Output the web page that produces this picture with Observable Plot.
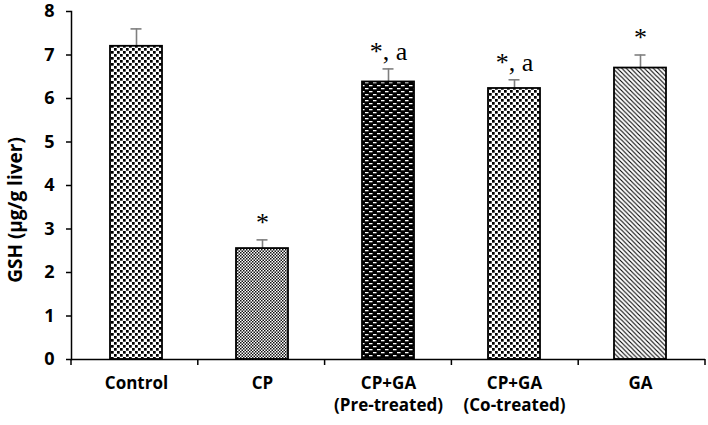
<!DOCTYPE html>
<html>
<head>
<meta charset="utf-8">
<script src="https://cdn.jsdelivr.net/npm/d3@7"></script>
<script src="https://cdn.jsdelivr.net/npm/@observablehq/plot@0.6"></script>
<style>
  html, body { margin: 0; padding: 0; background: #fff; }
  #chart svg { display: block; overflow: visible; }
</style>
</head>
<body>
<div id="chart"></div>
<script>
const categories = ["Control", "CP", "CP+GA\n(Pre-treated)", "CP+GA\n(Co-treated)", "GA"];
const means = [7.2, 2.55, 6.38, 6.23, 6.7];
const errors = [0.4, 0.2, 0.3, 0.2, 0.3];
const significance = ["", "*", "*, a", "*, a", "*"];
const patternIds = ["dots", "checker", "dashes", "dots", "diag"];
const yTicks = [0, 1, 2, 3, 4, 5, 6, 7, 8];
const yLabel = "GSH (µg/g liver)";

const data = categories.map((c, i) => ({
  cat: c, mean: means[i], err: errors[i], top: means[i] + errors[i],
  sig: significance[i], pat: `url(#pat-${patternIds[i]})`
}));

const sans = "'Open Sans', sans-serif";
const errColor = "#7f7f7f";

const plot = Plot.plot({
  width: 708,
  height: 425,
  marginLeft: 71,
  marginRight: 3,
  marginTop: 11,
  marginBottom: 66,
  style: { fontFamily: sans, fontSize: "18px", fontWeight: "bold", color: "#000", background: "#fff", overflow: "visible" },
  color: { type: "identity" },
  x: { domain: categories, paddingInner: 0.59, paddingOuter: 0.295, label: null },
  y: { domain: [0, 8], label: null },
  marks: [
    Plot.axisY({ ticks: yTicks, tickSize: 5, tickPadding: 12, tickFormat: d => String(d), fontSize: 18, fontWeight: "bold", strokeWidth: 1.5 }),
    Plot.axisX({ tickSize: 0, tickPadding: 14, fontSize: 17, fontWeight: "bold", lineHeight: 1.3 }),
    Plot.ruleX(data, { x: "cat", y1: "mean", y2: "top", stroke: errColor, strokeWidth: 1.6 }),
    Plot.tickY(data, { x: "cat", y: "top", stroke: errColor, strokeWidth: 1.6, insetLeft: 20.5, insetRight: 20.5 }),
    Plot.barY(data, { x: "cat", y: "mean", fill: "pat", stroke: "#000", strokeWidth: 1.8 }),
    Plot.ruleY([0], { stroke: "#000", strokeWidth: 1.5 }),
    Plot.frame({ anchor: "left", stroke: "#000", strokeWidth: 1.5 }),
    Plot.text(data, { x: "cat", y: "top", text: "sig", dy: -9, lineAnchor: "bottom", fontFamily: "'Liberation Serif', 'Times New Roman', serif", fontSize: 26, fontWeight: "normal", fill: "#000" })
  ]
});

const svg = d3.select(plot);
const defs = svg.insert("defs", ":first-child");

// dotted pattern (control / co-treated)
const p1 = defs.append("pattern").attr("id", "pat-dots").attr("patternUnits", "userSpaceOnUse").attr("width", 6).attr("height", 6);
p1.append("rect").attr("width", 6).attr("height", 6).attr("fill", "#fff");
p1.append("rect").attr("x", 0).attr("y", 0).attr("width", 2.7).attr("height", 2.7).attr("fill", "#000");
p1.append("rect").attr("x", 3).attr("y", 3).attr("width", 2.7).attr("height", 2.7).attr("fill", "#000");

// fine checker (CP)
const p2 = defs.append("pattern").attr("id", "pat-checker").attr("patternUnits", "userSpaceOnUse").attr("width", 3).attr("height", 3);
p2.append("rect").attr("width", 3).attr("height", 3).attr("fill", "#fff");
p2.append("rect").attr("x", 0).attr("y", 0).attr("width", 1.5).attr("height", 1.5).attr("fill", "#111");
p2.append("rect").attr("x", 1.5).attr("y", 1.5).attr("width", 1.5).attr("height", 1.5).attr("fill", "#111");

// black with white dashes (pre-treated)
const p3 = defs.append("pattern").attr("id", "pat-dashes").attr("patternUnits", "userSpaceOnUse").attr("width", 8).attr("height", 6);
p3.append("rect").attr("width", 8).attr("height", 6).attr("fill", "#000");
p3.append("rect").attr("x", 1).attr("y", 1).attr("width", 3.5).attr("height", 1.3).attr("fill", "#fff");
p3.append("rect").attr("x", 5).attr("y", 4).attr("width", 3.5).attr("height", 1.3).attr("fill", "#fff");
p3.append("rect").attr("x", -3).attr("y", 4).attr("width", 3.5).attr("height", 1.3).attr("fill", "#fff");

// diagonal lines (GA)
const p4 = defs.append("pattern").attr("id", "pat-diag").attr("patternUnits", "userSpaceOnUse").attr("width", 4.5).attr("height", 4.5);
p4.append("rect").attr("width", 4.5).attr("height", 4.5).attr("fill", "#fff");
p4.append("path").attr("d", "M-1,-1 L5.5,5.5 M-1,3.5 L1,5.5 M3.5,-1 L5.5,1").attr("stroke", "#000").attr("stroke-width", 1.1);

// x-axis boundary ticks using the plot's x scale
const xs = plot.scale("x");
const left = xs.range[0], right = xs.range[1];
const ys = plot.scale("y");
const y0 = ys.apply(0);
const g = svg.append("g").attr("stroke", "#000").attr("stroke-width", 1.5);
for (let i = 0; i <= categories.length; i++) {
  const x = left + i * (right - left) / categories.length;
  g.append("line").attr("x1", x).attr("x2", x).attr("y1", y0).attr("y2", y0 + 6);
}

// y-axis label
svg.append("text")
  .attr("transform", `translate(17,${(ys.range[0] + ys.range[1]) / 2 + 25}) rotate(-90)`)
  .attr("text-anchor", "middle")
  .attr("dominant-baseline", "middle")
  .attr("font-family", sans)
  .attr("font-weight", "bold")
  .attr("font-size", 19)
  .attr("fill", "#000")
  .text(yLabel);

document.getElementById("chart").appendChild(plot);
</script>
</body>
</html>
